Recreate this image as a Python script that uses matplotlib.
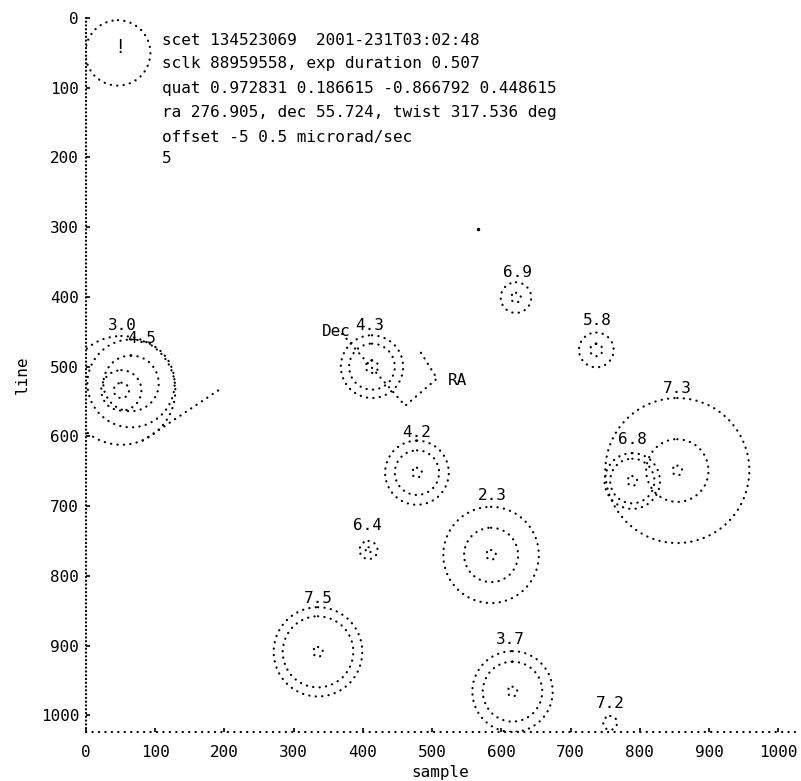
"""Star tracker frame: catalog stars drawn as dotted match circles.

Writes out.png (801x781).
"""

import matplotlib
matplotlib.use("Agg")  # headless
import matplotlib.pyplot as plt  # noqa: E402
from matplotlib.patches import Circle  # noqa: E402

header_lines = [
    "scet 134523069  2001-231T03:02:48",
    "sclk 88959558, exp duration 0.507",
    "quat 0.972831 0.186615 -0.866792 0.448615",
    "ra 276.905, dec 55.724, twist 317.536 deg",
    "offset -5 0.5 microrad/sec",
    "5",
]
header_x = 110
header_y = [32, 65, 101, 136, 171, 201]

# catalog stars (sample, line) with their magnitude labels
star_mag = ["3.0", "4.5", "4.3", "6.9", "5.8", "7.3", "6.8",
            "4.2", "2.3", "6.4", "7.5", "3.7", "7.2"]
star_x = [65, 51, 413, 621, 737, 854, 789, 478, 585, 408, 335, 616, 757]
star_y = [524, 534, 500, 401, 476, 649, 664, 652, 770, 763, 909, 966, 1011]
star_radii = [
    [40, 63],
    [11, 29, 78],
    [9, 33, 45],
    [7, 22],
    [9, 25],
    [7, 45, 104],
    [7, 32, 40],
    [7, 32, 46],
    [7, 39, 69],
    [4, 13],
    [7, 51, 64],
    [7, 43, 58],
    [10],
]
label_x = [52, 81, 410, 623, 738, 854, 789, 478, 587, 406, 335, 613, 757]
label_y = [441, 460, 441, 365, 434, 532, 605, 595, 685, 728, 832, 892, 983]

# reference marker in the corner
ref_x, ref_y, ref_r = 46, 50, 47

# smear streak and RA/Dec compass
streak_x = [82, 194]
streak_y = [606, 532]
compass_x = [370, 461, 507, 480]
compass_y = [453, 556, 517, 474]
ra_label = (522, 520)
dec_label = (382, 450)

stray_x = [566]
stray_y = [302]

ticks = list(range(0, 1001, 100))

DOTS = (0, (0.1, 2.8))
FS = 11.5
plt.rcParams["font.family"] = ["DejaVu Sans Mono"]


def dotted_circle(ax, x, y, r):
    c = Circle((x, y), r, fill=False, edgecolor="black", linewidth=1.6,
               linestyle=DOTS, capstyle="round")
    ax.add_patch(c)


def main():
    fig = plt.figure(figsize=(8.01, 7.81), dpi=100)
    ax = fig.add_axes([0.1074, 0.0627, 0.8851, 0.9142])

    ax.set_xlim(0, 1024)
    ax.set_ylim(1024, 0)

    for x, y, radii in zip(star_x, star_y, star_radii):
        for r in radii:
            dotted_circle(ax, x, y, r)
    for lx, ly, m in zip(label_x, label_y, star_mag):
        ax.text(lx, ly, m, ha="center", va="center", fontsize=FS)

    dotted_circle(ax, ref_x, ref_y, ref_r)
    ax.text(ref_x + 3, ref_y - 8, "!", ha="center", va="center", fontsize=FS + 2)

    ax.plot(streak_x, streak_y, color="black", lw=1.6, ls=DOTS,
            dash_capstyle="round")
    ax.plot(compass_x, compass_y, color="black", lw=1.6, ls=DOTS,
            dash_capstyle="round")
    ax.text(*ra_label, "RA", ha="left", va="center", fontsize=FS)
    ax.text(*dec_label, "Dec", ha="right", va="center", fontsize=FS)
    ax.plot(stray_x, stray_y, "k.", ms=3)

    for line, y in zip(header_lines, header_y):
        ax.text(header_x, y, line, ha="left", va="center", fontsize=FS)

    for side in ("top", "right"):
        ax.spines[side].set_visible(False)
    ax.spines["left"].set_linestyle((0, (0.1, 1.6)))
    ax.spines["bottom"].set_linestyle((0, (0.1, 2.8)))
    for side in ("left", "bottom"):
        ax.spines[side].set_linewidth(1.6)
        ax.spines[side].set_capstyle("round")

    ax.set_xticks(ticks)
    ax.set_yticks(ticks)
    ax.tick_params(direction="in", length=3, width=1.2, labelsize=FS)
    ax.tick_params(axis="x", pad=9)
    ax.tick_params(axis="y", pad=5)
    ax.set_xlabel("sample", fontsize=FS, labelpad=4)
    ax.set_ylabel("line", fontsize=FS, labelpad=8)

    fig.savefig("out.png", dpi=100)
    plt.close(fig)


if __name__ == "__main__":
    main()
